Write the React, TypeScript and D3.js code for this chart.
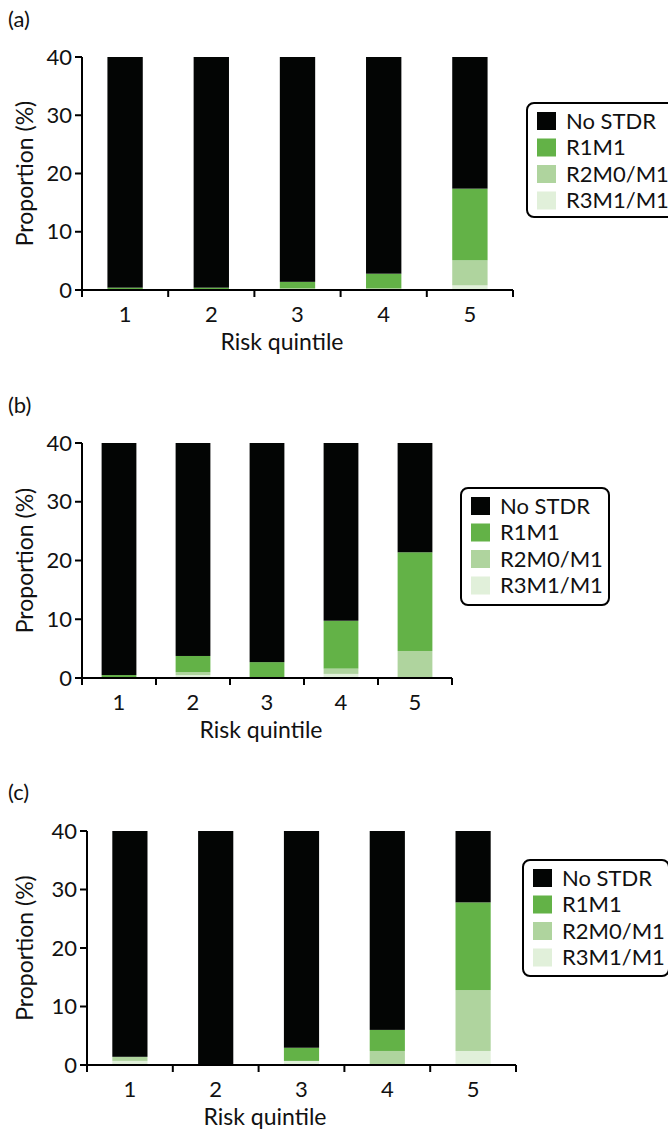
import React from 'react';
import * as d3 from 'd3';

// categories and series
const quintiles = ['1', '2', '3', '4', '5'];
const seriesNames = ['No STDR', 'R1M1', 'R2M0/M1', 'R3M1/M1'];
const seriesColors = ['#030504', '#63b247', '#afd49e', '#e1f0da'];
const yTicks = [0, 10, 20, 30, 40];
const panelLabels = ['(a)', '(b)', '(c)'];

// panel (a) values, %
const aR1M1 = [0.4, 0.4, 1.1, 2.5, 12.3];
const aR2M0M1 = [0, 0, 0.3, 0.3, 4.3];
const aR3M1M1 = [0, 0, 0, 0, 0.8];

// panel (b) values, %
const bR1M1 = [0.5, 2.75, 2.7, 8.15, 16.8];
const bR2M0M1 = [0, 0.5, 0, 0.9, 4.6];
const bR3M1M1 = [0, 0.5, 0, 0.7, 0];

// panel (c) values, %
const cR1M1 = [0, 0, 2.25, 3.6, 15.0];
const cR2M0M1 = [0.7, 0, 0, 2.4, 10.4];
const cR3M1M1 = [0.7, 0, 0.7, 0, 2.4];

const FONT = 'Lato, "Open Sans", sans-serif';

// layout of the three panels
const layouts = [
  { labelY: 27, x0: 82, x1: 513, yZero: 290, yTop: 57, pad: 0.59, titleX: 282, legend: { x: 527, y: 103, w: 148, h: 114 } },
  { labelY: 413, x0: 82, x1: 452, yZero: 678, yTop: 443, pad: 0.53, titleX: 261, legend: { x: 461, y: 488, w: 148, h: 117 } },
  { labelY: 800, x0: 87, x1: 516, yZero: 1065, yTop: 831, pad: 0.59, titleX: 265, legend: { x: 523, y: 860, w: 146, h: 116 } },
];

const panelData = [
  [aR1M1, aR2M0M1, aR3M1M1],
  [bR1M1, bR2M0M1, bR3M1M1],
  [cR1M1, cR2M0M1, cR3M1M1],
];

function buildRows(r1: number[], r2: number[], r3: number[]) {
  return quintiles.map((q, i) => ({
    quintile: q,
    'R3M1/M1': r3[i],
    'R2M0/M1': r2[i],
    'R1M1': r1[i],
    'No STDR': 100 - r1[i] - r2[i] - r3[i],
  }));
}

const stackOrder = ['R3M1/M1', 'R2M0/M1', 'R1M1', 'No STDR'];
const ROW = 26.5;

function Panel({ idx }: { idx: number }) {
  const L = layouts[idx];
  const [r1, r2, r3] = panelData[idx];
  const rows = buildRows(r1, r2, r3);

  const x = d3.scaleBand<string>()
    .domain(quintiles)
    .range([L.x0, L.x1])
    .paddingInner(L.pad)
    .paddingOuter(L.pad / 2);

  const y = d3.scaleLinear().domain([0, 40]).range([L.yZero, L.yTop]);

  const stacked = d3.stack<any>().keys(stackOrder)(rows);
  const boundaries = d3.range(quintiles.length + 1).map(i => L.x0 + i * x.step());
  const clipId = `clip-${idx}`;

  return (
    <g>
      <defs>
        <clipPath id={clipId}>
          <rect x={L.x0} y={y(40)} width={L.x1 - L.x0} height={y(0) - y(40)} />
        </clipPath>
      </defs>
      <text x={8} y={L.labelY} fontSize={22} fontFamily={FONT} fill="#111">{panelLabels[idx]}</text>

      <g clipPath={`url(#${clipId})`}>
        {stacked.map(layer => (
          <g key={layer.key} fill={seriesColors[seriesNames.indexOf(layer.key)]}>
            {layer.map((d, i) => (
              <rect
                key={i}
                x={x(quintiles[i])}
                width={x.bandwidth()}
                y={y(d[1])}
                height={Math.max(0, y(d[0]) - y(d[1]))}
              />
            ))}
          </g>
        ))}
      </g>

      {/* y axis */}
      <line x1={L.x0} x2={L.x0} y1={y(0) + 7} y2={y(40)} stroke="#000" strokeWidth={2} />
      {yTicks.map(t => (
        <g key={t}>
          <line x1={L.x0 - 7} x2={L.x0} y1={y(t)} y2={y(t)} stroke="#000" strokeWidth={2} />
          <text x={L.x0 - 10} y={y(t)} dy="0.35em" textAnchor="end" fontSize={22} fontFamily={FONT} fill="#111">{t}</text>
        </g>
      ))}
      <text
        transform={`translate(33,${(y(0) + y(40)) / 2}) rotate(-90)`}
        textAnchor="middle"
        fontSize={23}
        fontFamily={FONT}
        fill="#111"
      >Proportion (%)</text>

      {/* x axis */}
      <line x1={L.x0} x2={L.x1} y1={y(0)} y2={y(0)} stroke="#000" strokeWidth={2} />
      {boundaries.map((b, i) => (
        <line key={i} x1={b} x2={b} y1={y(0)} y2={y(0) + 7} stroke="#000" strokeWidth={2} />
      ))}
      {quintiles.map(q => (
        <text key={q} x={(x(q) ?? 0) + x.bandwidth() / 2} y={y(0) + 32} textAnchor="middle" fontSize={22} fontFamily={FONT} fill="#111">{q}</text>
      ))}
      <text x={L.titleX} y={y(0) + 60} textAnchor="middle" fontSize={23} fontFamily={FONT} fill="#111">Risk quintile</text>

      {/* legend */}
      <rect x={L.legend.x} y={L.legend.y} width={L.legend.w} height={L.legend.h} rx={7} fill="#fff" stroke="#000" strokeWidth={2} />
      {seriesNames.map((s, i) => {
        const top = L.legend.y + 9 + i * ROW;
        return (
          <g key={s}>
            <rect x={L.legend.x + 10} y={top} width={19} height={18} fill={seriesColors[i]} />
            <text x={L.legend.x + 39} y={top + 9} dy="0.36em" fontSize={22} fontFamily={FONT} fill="#111">{s}</text>
          </g>
        );
      })}
    </g>
  );
}

export default function App() {
  return (
    <svg
      width={668}
      height={1131}
      style={{ position: 'absolute', left: 0, top: 0, background: '#fff' }}
    >
      {layouts.map((_, i) => <Panel key={i} idx={i} />)}
    </svg>
  );
}
